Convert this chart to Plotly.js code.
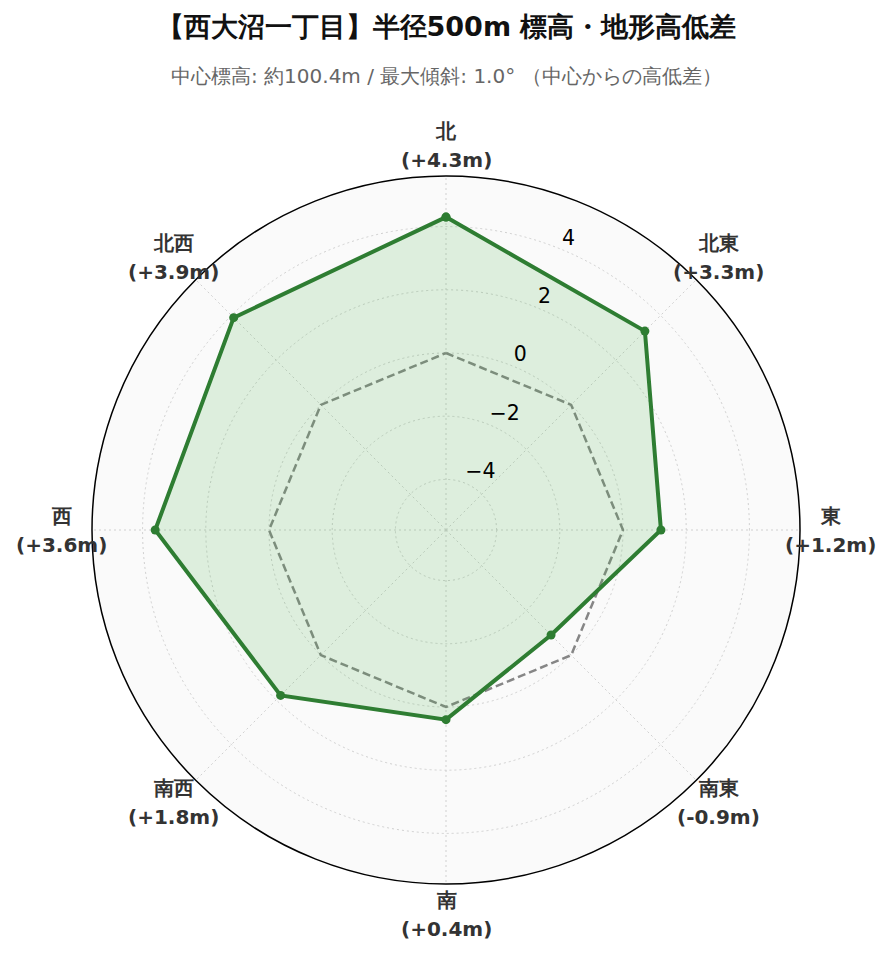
<!DOCTYPE html>
<html>
<head>
<meta charset="utf-8">
<script src="https://cdn.plot.ly/plotly-3.0.1.min.js"></script>
<style>html,body{margin:0;padding:0;background:#fff;}#chart{width:893px;height:962px;}</style>
</head>
<body>
<div id="chart"></div>
<script>
const directions = ["北", "北東", "東", "南東", "南", "南西", "西", "北西"];
const diffs = [4.3, 3.3, 1.2, -0.9, 0.4, 1.8, 3.6, 3.9];
const baseline = [0, 0, 0, 0, 0, 0, 0, 0];
const radialTicks = [-4, -2, 0, 2, 4];
const titleText = "【西大沼一丁目】半径500m 標高・地形高低差";
const subtitleText = "中心標高: 約100.4m / 最大傾斜: 1.0° （中心からの高低差）";

const rMin = -5.6, rMax = 5.6;
const labelR = 6.58;          // radius (data units) of direction labels
const rLabelAngle = 22.5;     // angle of radial tick labels
const step = 360 / directions.length;
const thetas = directions.map((d, i) => i * step);

const fmt = v => (v >= 0 ? "+" : "-") + Math.abs(v).toFixed(1) + "m";
const closeArr = a => a.concat([a[0]]);

const traces = [
  {
    type: "scatterpolar",
    r: closeArr(baseline),
    theta: closeArr(thetas),
    mode: "lines",
    line: {color: "rgba(128,128,128,0.95)", width: 2.5, dash: "8px,4px"},
    hoverinfo: "skip",
    showlegend: false
  },
  {
    type: "scatterpolar",
    r: closeArr(diffs),
    theta: closeArr(thetas),
    text: closeArr(directions),
    mode: "lines+markers",
    fill: "toself",
    fillcolor: "rgba(76,175,80,0.17)",
    line: {color: "#2e7d32", width: 4},
    marker: {color: "#2e7d32", size: 9},
    hovertemplate: "%{text}: %{r}m<extra></extra>",
    showlegend: false
  },
  {
    type: "scatterpolar",
    r: radialTicks,
    theta: radialTicks.map(() => rLabelAngle),
    mode: "text",
    text: radialTicks.map(v => v < 0 ? "\u2212" + Math.abs(v) : String(v)),
    textposition: "top right",
    textfont: {family: "DejaVu Sans", size: 20.5, color: "#000"},
    cliponaxis: false,
    hoverinfo: "skip",
    showlegend: false
  }
];

// direction labels placed on a ring just outside the polar area
const frac = (labelR - rMin) / (rMax - rMin) * 0.5;
const annotations = [];
directions.forEach((d, i) => {
  const a = (90 - thetas[i]) * Math.PI / 180;
  const x = 0.5 + frac * Math.cos(a);
  const y = 0.5 + frac * Math.sin(a);
  const common = {xref: "paper", yref: "paper", x: x, y: y, xanchor: "center", yanchor: "middle",
                  showarrow: false, font: {family: "DejaVu Sans", size: 20, color: "#333"}};
  annotations.push(Object.assign({text: "<b>" + d + "</b>", yshift: 14.5}, common));
  annotations.push(Object.assign({text: "<b>(" + fmt(diffs[i]) + ")</b>", yshift: -14.5}, common));
});
annotations.push({
  text: subtitleText,
  xref: "paper", yref: "paper",
  x: 0.5, y: (884 - 76) / 708, xanchor: "center", yanchor: "middle",
  showarrow: false,
  font: {family: "DejaVu Sans", size: 20, color: "#666"}
});

const layout = {
  width: 893,
  height: 962,
  paper_bgcolor: "#ffffff",
  margin: {l: 92, r: 93, t: 176, b: 78},
  font: {family: "DejaVu Sans", color: "#000"},
  title: {
    text: "<b>" + titleText + "</b>",
    font: {family: "DejaVu Sans", size: 27, color: "#111"},
    x: 0.5, xanchor: "center",
    y: 1 - 27/962, yanchor: "middle", yref: "container"
  },
  annotations: annotations,
  polar: {
    bgcolor: "#fafafa",
    domain: {x: [0, 1], y: [0, 1]},
    radialaxis: {
      range: [rMin, rMax],
      tickvals: radialTicks,
      showticklabels: false,
      showline: false,
      ticks: "",
      gridcolor: "#d0d0d0",
      griddash: "2px,3px",
      gridwidth: 1.2
    },
    angularaxis: {
      type: "linear",
      thetaunit: "degrees",
      rotation: 90,
      direction: "clockwise",
      tickmode: "array",
      tickvals: thetas,
      showticklabels: false,
      ticks: "",
      showline: true,
      linecolor: "#000",
      linewidth: 1.5,
      gridcolor: "#d0d0d0",
      griddash: "2px,3px",
      gridwidth: 1.2
    }
  }
};

Plotly.newPlot("chart", traces, layout, {displayModeBar: false});
</script>
</body>
</html>
